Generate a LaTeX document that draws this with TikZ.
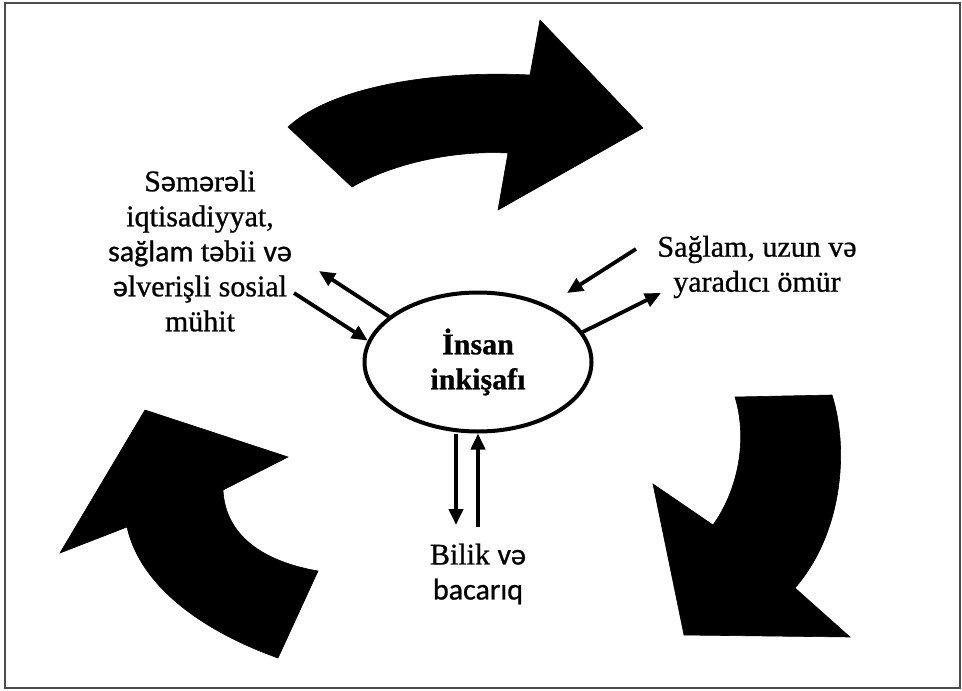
\documentclass[tikz,border=0pt]{standalone}
\usepackage{fontspec}
\setmainfont{Liberation Serif}[FakeBold=0.8]
\newfontfamily\sansf{Carlito}[FakeBold=0.8]
\usetikzlibrary{arrows.meta,shapes.geometric}
\newcommand{\sch}{{\sansf ə}}
\tikzset{
  bigarrow/.style={fill=black, draw=black, line width=0.6pt, line join=miter},
  thinarrow/.style={line width=3.8pt, -{Triangle[length=16pt,width=14pt]}},
  labeltext/.style={align=center, inner sep=0pt, font=\fontsize{30}{35}\selectfont},
  coreell/.style={ellipse, draw, line width=4pt, minimum width=227pt, minimum height=139pt, inner sep=0pt, align=center, font=\fontsize{30}{35}\selectfont\bfseries},
  frame/.style={draw=black!70, line width=1.5pt}
}
\begin{document}
\begin{tikzpicture}[x=1pt,y=-1pt]
\useasboundingbox (0,0) rectangle (962,691);
\draw[frame] (5,3) rectangle (960,688);

% top curved arrow
\fill[bigarrow] (288,127) .. controls (330,88) and (430,70) .. (530,75)
  -- (540,20) -- (643,128) -- (498,210) -- (508,153)
  .. controls (450,150) and (390,165) .. (352,187) -- cycle;

% right curved arrow
\fill[bigarrow] (735,397) -- (832,395)
  .. controls (848,445) and (845,530) .. (795,588)
  -- (850,637) -- (684,635) -- (653,484) -- (713,525)
  .. controls (738,490) and (748,440) .. (735,397) -- cycle;

% left curved arrow
\fill[bigarrow] (145,410) -- (288,457) -- (223,490)
  .. controls (225,530) and (255,560) .. (318,571)
  -- (278,658)
  .. controls (200,630) and (140,585) .. (127,527)
  -- (60,553) -- cycle;

% central node
\node[coreell] (core) at (478,362) {İnsan\\inkişafı};

% labels
\node[labeltext] (lefttxt) at (200,251) {S\sch m\sch r\sch li\\iqtisadiyyat,\\{\sansf sağlam} t\sch bii {\sansf və}\\\sch lveri\c{s}li sosial\\mühit};
\node[labeltext] (righttxt) at (757,267) {Sağlam, uzun və\\yaradıcı ömür};
\node[labeltext] (bottomtxt) at (478,574) {Bilik {\sansf və}\\{\sansf bacarıq}};

% free ends
\coordinate (lo) at (319,271);
\coordinate (li) at (294,293);
\coordinate (riA) at (636,249);
\coordinate (riB) at (567,293);
\coordinate (ro) at (661,293);
\coordinate (bd) at (456,525);
\coordinate (bu) at (478,527);

% connectors
\draw[thinarrow] (core.153) -- (lo);
\draw[thinarrow] (li) -- (core.169);
\draw[thinarrow] (riA) -- (riB);
\draw[thinarrow] (core.16) -- (ro);
\draw[thinarrow] (core.south -| bd) -- (bd);
\draw[thinarrow] (bu) -- (core.south);
\end{tikzpicture}
\end{document}
